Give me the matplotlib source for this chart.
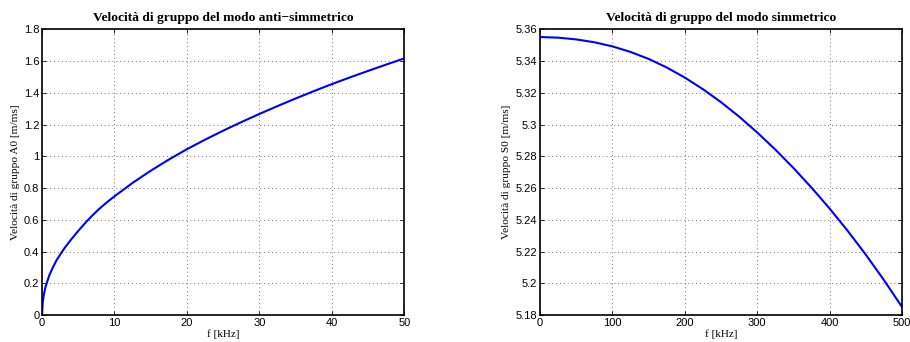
#!/usr/bin/env python3
"""Group velocity of the A0 and S0 Lamb modes vs frequency (two panels)."""
import numpy as np
import matplotlib
matplotlib.use("Agg")
import matplotlib.pyplot as plt
from matplotlib.ticker import FormatStrFormatter

# A0 branch, 0-50 kHz
f_a0 = [0, 0.1, 0.25, 0.5, 1, 1.5, 2, 3, 4, 5, 6, 7, 8, 9, 10,
        12.5, 15, 17.5, 20, 22.5, 25, 27.5, 30, 32.5, 35, 37.5,
        40, 42.5, 45, 47.5, 50]
cg_a0 = [0, 0.08, 0.13, 0.18, 0.25, 0.30, 0.345, 0.415, 0.475, 0.53,
         0.582, 0.63, 0.673, 0.712, 0.748, 0.8326, 0.9091, 0.9795, 1.045,
         1.1049, 1.1616, 1.2155, 1.267, 1.3166, 1.3644, 1.4105, 1.4551,
         1.4973, 1.5383, 1.5782, 1.617]

# S0 branch, 0-500 kHz
f_s0 = [0, 25, 50, 75, 100, 125, 150, 175, 200, 225, 250, 275, 300,
        325, 350, 375, 400, 425, 450, 475, 500]
cg_s0 = [5.3552, 5.3548, 5.3537, 5.3519, 5.3493, 5.3458, 5.3414, 5.3360,
         5.3296, 5.3223, 5.3141, 5.3050, 5.2950, 5.2842, 5.2726, 5.2602,
         5.2470, 5.2329, 5.2179, 5.2019, 5.1849]

a0_xticks = [0, 10, 20, 30, 40, 50]
a0_yticks = [0, 0.2, 0.4, 0.6, 0.8, 1, 1.2, 1.4, 1.6, 1.8]
s0_xticks = [0, 100, 200, 300, 400, 500]
s0_yticks = [5.18, 5.2, 5.22, 5.24, 5.26, 5.28, 5.3, 5.32, 5.34, 5.36]

SERIF = "Liberation Serif"
SANS = "Liberation Sans"


def style_axes(ax, xticks, yticks, title, ylabel):
    ax.set_xticks(xticks)
    ax.set_yticks(yticks)
    ax.set_xlim(xticks[0], xticks[-1])
    ax.set_ylim(yticks[0], yticks[-1])
    ax.yaxis.set_major_formatter(FormatStrFormatter("%g"))
    ax.xaxis.set_major_formatter(FormatStrFormatter("%g"))
    ax.tick_params(direction="in", length=3, width=0.6, top=True,
                   right=True, labelsize=8, pad=2)
    for lab in ax.get_xticklabels() + ax.get_yticklabels():
        lab.set_fontfamily(SANS)
    for sp in ax.spines.values():
        sp.set_linewidth(1.2)
    ax.grid(True, ls=(0, (1, 3)), color="0.45", lw=0.7)
    ax.set_axisbelow(True)
    ax.set_title(title, fontfamily=SERIF, fontweight="bold", fontsize=9.7,
                 pad=6)
    ax.set_xlabel("f [kHz]", fontfamily=SERIF, fontsize=8, labelpad=1)
    ax.set_ylabel(ylabel, fontfamily=SERIF, fontsize=8.2, labelpad=3)


fig = plt.figure(figsize=(9.1, 3.42), dpi=100)
ax_a = fig.add_axes([0.0462, 0.079, 0.398, 0.835])
ax_s = fig.add_axes([0.5934, 0.079, 0.398, 0.835])

ax_a.plot(f_a0, cg_a0, color="#0000ff", lw=1.5)
style_axes(ax_a, a0_xticks, a0_yticks,
           "Velocità di gruppo del modo anti\u2212simmetrico",
           "Velocità di gruppo A0 [m/ms]")

ax_s.plot(f_s0, cg_s0, color="#0000ff", lw=1.5)
style_axes(ax_s, s0_xticks, s0_yticks,
           "Velocità di gruppo del modo simmetrico",
           "Velocità di gruppo S0 [m/ms]")

fig.savefig("out.png", dpi=100)
